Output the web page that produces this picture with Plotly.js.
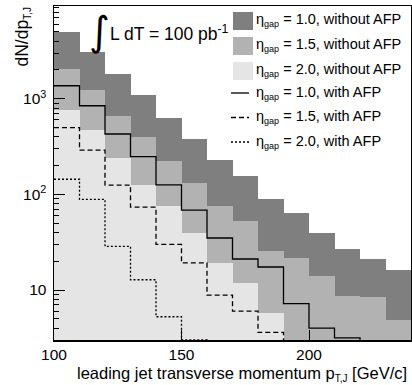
<!DOCTYPE html>
<html>
<head>
<meta charset="utf-8">
<script src="https://cdn.plot.ly/plotly-3.0.1.min.js"></script>
<style>html,body{margin:0;padding:0;background:#fff}#chart{width:412px;height:385px}</style>
</head>
<body>
<div id="chart"></div>
<script>
// bin lower edges (GeV/c), bin width 10
const binLow = [100,110,120,130,140,150,160,170,180,190,200,210,220,230];
const binWidth = 10;
// without AFP (filled histograms)
const gap10NoAFP = [4980,3120,1825,1100,629,379,231,154,89.5,64,39.5,26.9,21.1,16.3];
const gap15NoAFP = [2040,1242,656,396,221,133,75.6,52.2,25.8,21.6,14.0,8.7,8.4,4.8];
const gap20NoAFP = [768,467,240,126,75,39.5,19.2,11.9,5.7,null,null,null,null,null];
// with AFP (line histograms)
const gap10AFP = [1367,845,428,248,126,68.4,35,21.1,17.4,7.2,4.0,3.16,2.9,2.8];
const gap15AFP = [498,290,125,73.5,30,19.2,8.85,6.0,3.6,2,2,2,2,2];
const gap20AFP = [144,88.7,28.6,12.8,5.25,3.0,2,2,2,2,2,2,2,2];

const SUB = s => "<sub><span style=\"font-size:9px\">" + s + "</span></sub>";
const labels = [
  "η" + SUB("gap") + " = 1.0, without AFP",
  "η" + SUB("gap") + " = 1.5, without AFP",
  "η" + SUB("gap") + " = 2.0, without AFP",
  "η" + SUB("gap") + " = 1.0, with AFP",
  "η" + SUB("gap") + " = 1.5, with AFP",
  "η" + SUB("gap") + " = 2.0, with AFP"
];
const fills = ["#7f7f7f","#b2b2b2","#e5e5e5"];
const dashes = ["solid","5px,3px","2px,2px"];

const W = 412, H = 385, L = 54, R = 1, T = 6, B = 45;
const pw = W - L - R, ph = H - T - B;
const px = x => (x - L) / pw;
const py = y => (H - B - y) / ph;
const FONT = "Liberation Sans, Arial, sans-serif";

function barTrace(vals, color) {
  return {type: "bar", x: binLow, y: vals, width: binWidth, offset: 0,
    marker: {color: color, line: {width: 0}}, showlegend: false, hoverinfo: "skip"};
}
function stepTrace(vals, dash) {
  const xe = binLow.concat([binLow[binLow.length - 1] + binWidth]);
  const ye = vals.concat([vals[vals.length - 1]]);
  return {type: "scatter", mode: "lines", x: xe, y: ye,
    line: {shape: "hv", color: "#000", width: 1.3, dash: dash}, showlegend: false, hoverinfo: "skip"};
}

const data = [
  barTrace(gap10NoAFP, fills[0]),
  barTrace(gap15NoAFP, fills[1]),
  barTrace(gap20NoAFP, fills[2]),
  stepTrace(gap10AFP, dashes[0]),
  stepTrace(gap15AFP, dashes[1]),
  stepTrace(gap20AFP, dashes[2])
];

const minorVals = [];
for (let d = 0; d <= 3; d++) for (let k = 2; k <= 9; k++) minorVals.push(k * Math.pow(10, d));

const shapes = [];
const annotations = [];
// manual legend
for (let i = 0; i < 3; i++) {
  const y0 = 12 + 25 * i;
  shapes.push({type: "rect", xref: "paper", yref: "paper",
    x0: px(233), x1: px(253), y0: py(y0), y1: py(y0 + 18),
    fillcolor: fills[i], line: {width: 0}});
}
for (let i = 0; i < 3; i++) {
  const yy = 93 + 24.5 * i;
  shapes.push({type: "line", xref: "paper", yref: "paper",
    x0: px(231), x1: px(249), y0: py(yy), y1: py(yy),
    line: {color: "#000", width: 1.3, dash: dashes[i]}});
}
const textY = [20, 45, 70, 93, 117, 142];
for (let i = 0; i < 6; i++) {
  annotations.push({xref: "paper", yref: "paper", x: px(254), y: py(textY[i]),
    xanchor: "left", yanchor: "middle", showarrow: false, text: labels[i],
    font: {family: FONT, size: 14.5, color: "#000"}});
}
// luminosity label
annotations.push({xref: "paper", yref: "paper", x: px(99), y: py(31), xanchor: "center", yanchor: "middle",
  showarrow: false, text: "∫", font: {family: "DejaVu Sans, sans-serif", size: 40, color: "#000"}});
annotations.push({xref: "paper", yref: "paper", x: px(108), y: py(33), xanchor: "left", yanchor: "middle",
  showarrow: false, text: "L dT = 100 pb<sup>-1</sup>",
  font: {family: FONT, size: 17.5, color: "#000"}});
// axis titles
annotations.push({xref: "paper", yref: "paper", x: px(22), y: py(6), xanchor: "center", yanchor: "top",
  textangle: -90, showarrow: false, text: "dN/dp" + "<sub><span style=\"font-size:10px\">T,J</span></sub>",
  font: {family: FONT, size: 17.5, color: "#000"}});
annotations.push({xref: "paper", yref: "paper", x: px(409), y: py(362), xanchor: "right", yanchor: "top",
  showarrow: false, text: "leading jet transverse momentum p" + "<sub><span style=\"font-size:10px\">T,J</span></sub>" + " [GeV/c]",
  font: {family: FONT, size: 16.5, color: "#000"}});

const layout = {
  width: W, height: H,
  margin: {l: L, r: R, t: T, b: B, pad: 0},
  paper_bgcolor: "#fff", plot_bgcolor: "#fff",
  barmode: "overlay", bargap: 0,
  showlegend: false,
  font: {family: FONT, size: 15, color: "#000"},
  xaxis: {range: [100, 240], showgrid: false, zeroline: false,
    showline: true, mirror: true, linecolor: "#000", linewidth: 1.5,
    tickmode: "array", tickvals: [100, 150, 200], ticktext: ["100", "150", "200"],
    ticks: "inside", ticklen: 10, tickcolor: "#000", tickwidth: 1,
    ticklabelstandoff: 0,
    tickfont: {size: 15.5}},
  yaxis: {type: "log", range: [Math.log10(3), 3.97], showgrid: false, zeroline: false,
    showline: true, mirror: true, linecolor: "#000", linewidth: 1.5,
    tickmode: "array", tickvals: [10, 100, 1000], ticktext: ["10", "10<sup>2</sup>", "10<sup>3</sup>"],
    ticks: "inside", ticklen: 11, tickcolor: "#000", tickwidth: 1,
    ticklabelstandoff: 3,
    minor: {tickmode: "array", tickvals: minorVals, ticks: "inside", ticklen: 5, tickcolor: "#000", tickwidth: 1, showgrid: false},
    tickfont: {size: 15.5}},
  shapes: shapes,
  annotations: annotations
};

Plotly.newPlot("chart", data, layout, {staticPlot: true, displayModeBar: false});
</script>
</body>
</html>
